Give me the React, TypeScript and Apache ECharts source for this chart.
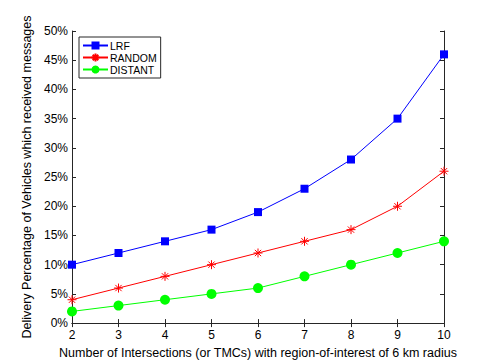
import React, { useEffect, useRef } from "react";
import * as echarts from "echarts";

const xValues = [2, 3, 4, 5, 6, 7, 8, 9, 10];
const lrf = [10, 12, 14, 16, 19, 23, 28, 35, 46];
const random = [4, 6, 8, 10, 12, 14, 16, 20, 26];
const distant = [2, 3, 4, 5, 6, 8, 10, 12, 14];
const seriesNames = ["LRF", "RANDOM", "DISTANT"];

const FONT = "Liberation Sans, Arial, sans-serif";
const AXIS = "#262626";
const STAR = "path://M0,-5L0,5M-5,0L5,0M-3.5,-3.5L3.5,3.5M-3.5,3.5L3.5,-3.5";

export default function App() {
  const ref = useRef<HTMLDivElement>(null);
  useEffect(() => {
    const chart = echarts.init(ref.current!, null, { renderer: "svg" });
    const pair = (arr: number[]) => xValues.map((x, i) => [x, arr[i]]);
    const axisCommon = {
      axisLine: { show: true, lineStyle: { color: AXIS, width: 1 } },
      axisTick: { show: true, inside: true, length: 4, lineStyle: { color: AXIS } },
      splitLine: { show: false },
    };
    chart.setOption({
      animation: false,
      backgroundColor: "#fff",
      textStyle: { fontFamily: FONT },
      grid: { left: 72, right: 51, top: 31, bottom: 40 },
      legend: {
        data: seriesNames,
        orient: "vertical",
        left: 79,
        top: 37,
        itemWidth: 25,
        itemHeight: 10,
        itemGap: 1,
        padding: [3, 4, 3, 3],
        borderColor: "#262626",
        borderWidth: 1,
        backgroundColor: "#fff",
        textStyle: { fontFamily: FONT, fontSize: 10.5, color: "#000", padding: [0, 0, 0, -3] },
      },
      xAxis: [
        {
          type: "value",
          min: 2,
          max: 10,
          interval: 1,
          position: "bottom",
          name: "Number of Intersections (or TMCs) with region-of-interest of 6 km radius",
          nameLocation: "middle",
          nameGap: 21,
          nameTextStyle: { fontFamily: FONT, fontSize: 12.5, color: "#000" },
          axisLabel: { fontFamily: FONT, fontSize: 12, color: "#000", margin: 6 },
          ...axisCommon,
        },
        {
          type: "value",
          min: 2,
          max: 10,
          interval: 1,
          position: "top",
          axisLabel: { show: false },
          ...axisCommon,
        },
      ],
      yAxis: [
        {
          type: "value",
          min: 0,
          max: 50,
          interval: 5,
          position: "left",
          name: "Delivery Percentage of Vehicles which received messages",
          nameLocation: "middle",
          nameGap: 29,
          nameTextStyle: { fontFamily: FONT, fontSize: 12.5, color: "#000" },
          axisLabel: { fontFamily: FONT, fontSize: 12, color: "#000", formatter: "{value}%", margin: 4 },
          ...axisCommon,
        },
        {
          type: "value",
          min: 0,
          max: 50,
          interval: 5,
          position: "right",
          axisLabel: { show: false },
          ...axisCommon,
        },
      ],
      series: [
        {
          name: "LRF",
          type: "line",
          data: pair(lrf),
          symbol: "rect",
          symbolSize: 8,
          lineStyle: { color: "#0000ff", width: 1 },
          itemStyle: { color: "#0000ff" },
        },
        {
          name: "RANDOM",
          type: "line",
          data: pair(random),
          symbol: STAR,
          symbolSize: 9,
          lineStyle: { color: "#ff0000", width: 1 },
          itemStyle: { color: "#ff0000", borderColor: "#ff0000", borderWidth: 1 },
        },
        {
          name: "DISTANT",
          type: "line",
          data: pair(distant),
          symbol: "circle",
          symbolSize: 10,
          lineStyle: { color: "#00ff00", width: 1 },
          itemStyle: { color: "#00ff00" },
        },
      ],
    });
    return () => chart.dispose();
  }, []);
  return (
    <div
      ref={ref}
      style={{ position: "fixed", left: 0, top: 0, width: 495, height: 364, background: "#fff" }}
    />
  );
}
